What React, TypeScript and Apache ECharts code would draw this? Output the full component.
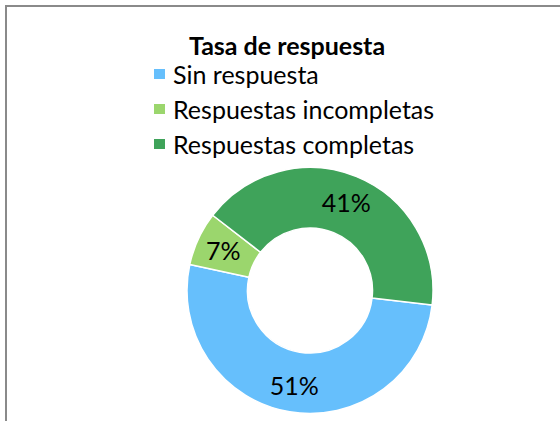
import React, { useEffect, useRef } from "react";
import * as echarts from "echarts";

const titleText = "Tasa de respuesta";
const categories = ["Sin respuesta", "Respuestas incompletas", "Respuestas completas"];
const values = [51, 7, 41];
const colors = ["#66BFFC", "#9BD66D", "#3FA35A"];

const FONT = "Lato, Carlito, 'Open Sans', sans-serif";

export default function App() {
  const ref = useRef<HTMLDivElement>(null);
  useEffect(() => {
    document.body.style.margin = "0";
    const chart = echarts.init(ref.current!, undefined, { renderer: "svg" });
    chart.setOption({
      animation: false,
      backgroundColor: "#ffffff",
      title: {
        text: titleText,
        left: 287,
        top: 32,
        textAlign: "center",
        padding: 0,
        textStyle: { fontFamily: FONT, fontSize: 25, fontWeight: "bold", color: "#000000" },
      },
      legend: {
        orient: "vertical",
        left: 152,
        top: 61,
        padding: 0,
        itemWidth: 13,
        itemHeight: 12,
        itemGap: 9,
        icon: "rect",
        selectedMode: false,
        data: categories,
        textStyle: { fontFamily: FONT, fontSize: 25, color: "#000000", lineHeight: 26, padding: [0, 0, 0, 2] },
      },
      graphic: [
        { type: "line", shape: { x1: 6, y1: 6, x2: 560, y2: 6 }, style: { stroke: "#8A8A8A", lineWidth: 2 }, silent: true },
        { type: "line", shape: { x1: 6, y1: 5, x2: 6, y2: 421 }, style: { stroke: "#8A8A8A", lineWidth: 2 }, silent: true },
      ],
      series: [
        {
          type: "pie",
          center: [310, 290.5],
          radius: [62.5, 123],
          startAngle: -6.8,
          clockwise: true,
          avoidLabelOverlap: false,
          silent: true,
          itemStyle: { borderColor: "#ffffff", borderWidth: 1.5 },
          label: {
            show: true,
            position: "inside",
            formatter: (p: any) => `${p.value}%`,
            fontFamily: FONT,
            fontSize: 25,
            color: "#000000",
          },
          labelLine: { show: false },
          data: categories.map((name, i) => ({ name, value: values[i], itemStyle: { color: colors[i] } })),
        },
      ],
    });
    return () => chart.dispose();
  }, []);
  return <div ref={ref} style={{ position: "fixed", left: 0, top: 0, width: 560, height: 421 }} />;
}
